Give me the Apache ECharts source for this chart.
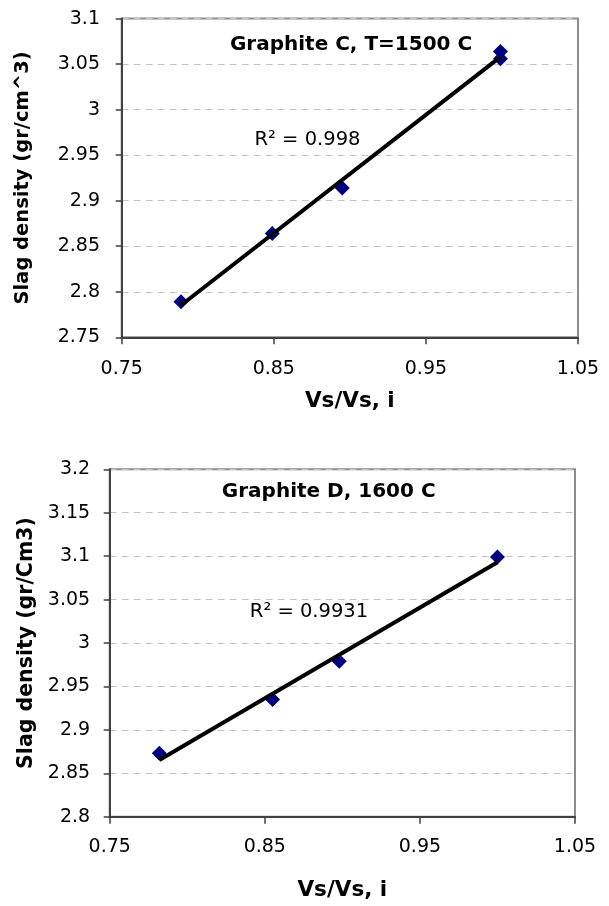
<!DOCTYPE html>
<html><head><meta charset="utf-8">
<script src="https://cdn.jsdelivr.net/npm/echarts@6/dist/echarts.min.js"></script>
<style>html,body{margin:0;padding:0;background:#fff}#c{width:609px;height:906px}</style>
</head><body><div id="c"></div>
<script>
// ---- data ----
const xC = [0.789, 0.849, 0.895, 0.999, 0.999];
const yC = [2.789, 2.864, 2.914, 3.064, 3.056];
const xD = [0.782, 0.855, 0.898, 1.0];
const yD = [2.873, 2.935, 2.979, 3.099];
const titleC = 'Graphite C, T=1500 C';
const titleD = 'Graphite D, 1600 C';
const r2C = 'R\u00B2 = 0.998';
const r2D = 'R\u00B2 = 0.9931';
const xName = 'Vs/Vs, i';
const yNameC = 'Slag density (gr/cm^3)';
const yNameD = 'Slag density (gr/Cm3)';
const xTicks = [0.75, 0.85, 0.95, 1.05];
const yRangeC = [2.75, 3.1];
const yRangeD = [2.8, 3.2];
const yStep = 0.05;

// least-squares linear trendline (as in the original spreadsheet)
function trend(xs, ys) {
  const n = xs.length;
  const mx = xs.reduce((a, b) => a + b, 0) / n;
  const my = ys.reduce((a, b) => a + b, 0) / n;
  let sxy = 0, sxx = 0;
  for (let i = 0; i < n; i++) { sxy += (xs[i] - mx) * (ys[i] - my); sxx += (xs[i] - mx) ** 2; }
  const b = sxy / sxx, a = my - b * mx;
  const x0 = Math.min(...xs), x1 = Math.max(...xs);
  return [[x0, a + b * x0], [x1, a + b * x1]];
}
const zip = (xs, ys) => xs.map((x, i) => [x, ys[i]]);
const fmt = v => String(parseFloat(Number(v).toFixed(2)));

const AX = '#404040';
const tickFont = { fontFamily: 'DejaVu Sans', fontSize: 19, color: '#000' };
const nameFont = (s) => ({ fontFamily: 'DejaVu Sans', fontWeight: 'bold', fontSize: s, color: '#000' });

function xAxis(idx, gap, margin) {
  return {
    type: 'value', gridIndex: idx, min: xTicks[0], max: xTicks[xTicks.length - 1],
    name: xName, nameLocation: 'middle', nameGap: gap, nameTextStyle: nameFont(21.5),
    axisLine: { show: true, lineStyle: { color: AX, width: 2 } },
    axisTick: { show: true, inside: false, length: 7, customValues: xTicks, lineStyle: { color: AX, width: 1.5 } },
    axisLabel: Object.assign({ margin: margin, customValues: xTicks, formatter: fmt }, tickFont),
    splitLine: { show: false }
  };
}
function yAxis(idx, range, name, size, gap, margin) {
  return {
    type: 'value', gridIndex: idx, min: range[0], max: range[1], interval: yStep,
    name: name, nameLocation: 'middle', nameRotate: 90, nameGap: gap, nameTextStyle: nameFont(size),
    axisLine: { show: true, lineStyle: { color: AX, width: 2 } },
    axisTick: { show: true, inside: false, length: 6, lineStyle: { color: AX, width: 1.5 } },
    axisLabel: Object.assign({ margin: margin, formatter: fmt }, tickFont),
    splitLine: { show: true, lineStyle: { color: '#c4c4c4', width: 1, type: [7, 5] } }
  };
}
function label(text, x, y, size, bold) {
  return {
    type: 'text', x: x, y: y, z: 10,
    style: { text: text, fontFamily: 'DejaVu Sans', fontSize: size, fontWeight: bold ? 'bold' : 'normal',
             fill: '#000', align: 'center', verticalAlign: 'middle' }
  };
}
const marker = { symbol: 'diamond', symbolSize: 15, itemStyle: { color: '#000080', opacity: 1 }, z: 2 };
const tline = { type: 'line', symbol: 'none', lineStyle: { color: '#000', width: 4 }, z: 3 };

const chart = echarts.init(document.getElementById('c'), null, { renderer: 'canvas' });
chart.setOption({
  animation: false,
  backgroundColor: '#fff',
  grid: [
    { left: 121.7, top: 18.6, width: 456.3, height: 318.7, show: true, borderColor: '#8c8c8c', borderWidth: 2, backgroundColor: 'transparent' },
    { left: 109.7, top: 469.3, width: 465.3, height: 347.4, show: true, borderColor: '#8c8c8c', borderWidth: 2, backgroundColor: 'transparent' }
  ],
  xAxis: [xAxis(0, 53.5, 22), xAxis(1, 62.5, 21.1)],
  yAxis: [yAxis(0, yRangeC, yNameC, 19.5, 88.7, 21.7), yAxis(1, yRangeD, yNameD, 20.5, 72.7, 19.6)],
  series: [
    Object.assign({ type: 'scatter', xAxisIndex: 0, yAxisIndex: 0, data: zip(xC, yC) }, marker),
    Object.assign({ xAxisIndex: 0, yAxisIndex: 0, data: trend(xC, yC) }, tline),
    Object.assign({ type: 'scatter', xAxisIndex: 1, yAxisIndex: 1, data: zip(xD, yD) }, marker),
    Object.assign({ xAxisIndex: 1, yAxisIndex: 1, data: trend(xD, yD) }, tline)
  ],
  graphic: [
    label(titleC, 351, 45, 20, true),
    label(r2C, 307.5, 140.3, 19.5, false),
    label(titleD, 328.7, 491.7, 20, true),
    label(r2D, 309, 611.7, 19.5, false)
  ]
});
</script>
</body></html>
